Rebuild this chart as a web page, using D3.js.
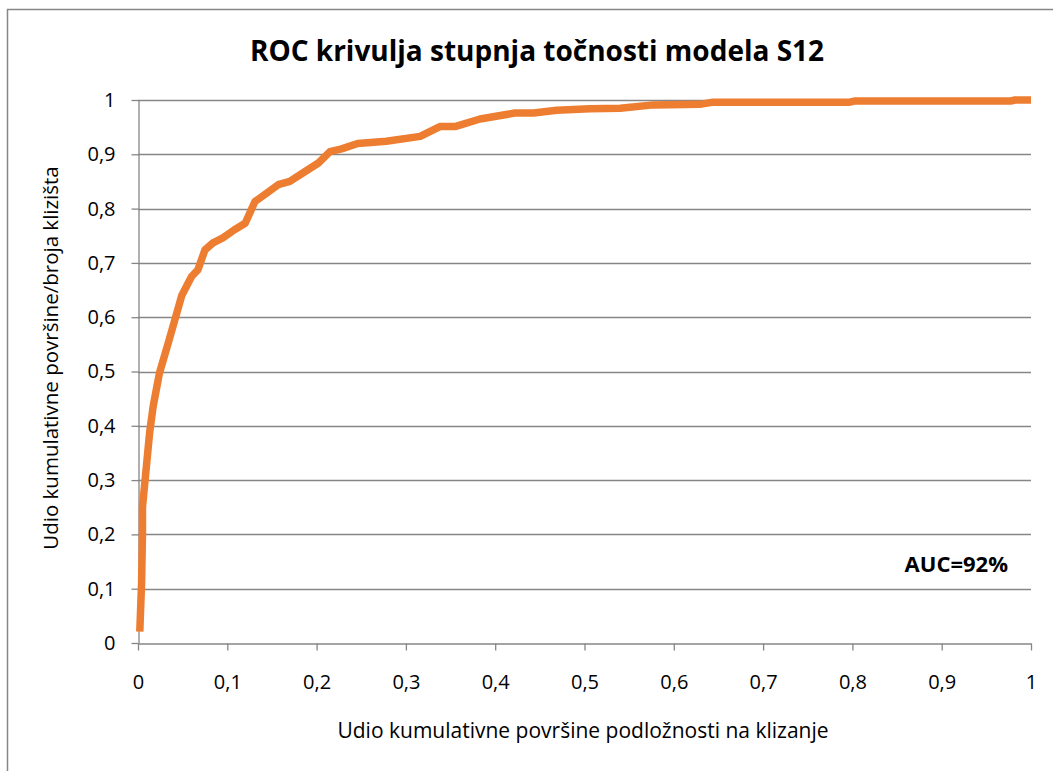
<!DOCTYPE html>
<html lang="hr">
<head>
<meta charset="utf-8">
<style>
  body { margin: 0; background: #fff; }
  text { font-family: "Open Sans", sans-serif; fill: #000; }
  .axis path, .axis line { stroke: #868686; }
  .axis text { font-size: 20px; }
</style>
</head>
<body>
<script src="https://cdn.jsdelivr.net/npm/d3@7"></script>
<script>

// ROC krivulja (procjena iz slike)
var fpr = [0.002, 0.004, 0.005, 0.005, 0.013, 0.017, 0.024, 0.035, 0.049, 0.060, 0.067, 0.075,
  0.084, 0.095, 0.108, 0.120, 0.131, 0.142, 0.157, 0.170, 0.185, 0.202, 0.215, 0.228, 0.246,
  0.278, 0.316, 0.338, 0.355, 0.383, 0.422, 0.443, 0.469, 0.506, 0.540, 0.577, 0.629, 0.644,
  0.797, 0.802, 0.977, 0.982, 1.0];
var tpr = [0.021, 0.11, 0.2, 0.25, 0.387, 0.436, 0.497, 0.559, 0.640, 0.675, 0.687, 0.724,
  0.737, 0.746, 0.761, 0.773, 0.813, 0.826, 0.844, 0.850, 0.866, 0.884, 0.905, 0.910, 0.920,
  0.924, 0.933, 0.951, 0.951, 0.965, 0.976, 0.976, 0.981, 0.984, 0.985, 0.991, 0.992, 0.996,
  0.996, 0.998, 0.998, 1.0, 1.0];

var xTicks = d3.range(0, 11).map(function(i) { return i / 10; });
var yTicks = d3.range(0, 11).map(function(i) { return i / 10; });

var chartTitle = "ROC krivulja stupnja točnosti modela S12";
var xTitle = "Udio kumulativne površine podložnosti na klizanje";
var yTitle = "Udio kumulativne površine/broja klizišta";
var aucLabel = "AUC=92%";

var W = 1053, H = 771;
var plot = {left: 138, right: 1031, top: 100, bottom: 643};

var fmt = function(d) { return String(d).replace(".", ","); };

var svg = d3.select("body").append("svg")
  .attr("width", W)
  .attr("height", H);

// okvir grafikona
svg.append("rect")
  .attr("x", 7.5).attr("y", 9.5)
  .attr("width", W + 20).attr("height", H + 20)
  .attr("fill", "none")
  .attr("stroke", "#868686")
  .attr("stroke-width", 1.5);

var scaleX = d3.scaleLinear().domain([0, 1]).range([plot.left, plot.right]);
var scaleY = d3.scaleLinear().domain([0, 1]).range([plot.bottom, plot.top]);

// mreza
svg.append("g")
  .selectAll("line")
  .data(yTicks.slice(1))
  .enter().append("line")
  .attr("x1", plot.left).attr("x2", plot.right)
  .attr("y1", function(d) { return Math.round(scaleY(d)) + 0.5; })
  .attr("y2", function(d) { return Math.round(scaleY(d)) + 0.5; })
  .attr("stroke", "#868686")
  .attr("stroke-width", 1.3);

var xAxis = d3.axisBottom(scaleX).tickValues(xTicks).tickFormat(fmt).tickSize(7).tickSizeOuter(0).tickPadding(24);
var yAxis = d3.axisLeft(scaleY).tickValues(yTicks).tickFormat(fmt).tickSize(7).tickSizeOuter(0).tickPadding(16);

svg.append("g")
  .attr("class", "x axis")
  .attr("transform", "translate(0," + (plot.bottom + 0.5) + ")")
  .call(xAxis);

svg.append("g")
  .attr("class", "y axis")
  .attr("transform", "translate(" + (plot.left + 0.5) + ",0)")
  .call(yAxis);

svg.selectAll(".axis path, .axis line").attr("stroke-width", 1.3);

var line = d3.line()
  .x(function(d, i) { return scaleX(fpr[i]); })
  .y(function(d, i) { return scaleY(tpr[i]); });

svg.append("path")
  .datum(fpr)
  .attr("d", line)
  .attr("fill", "none")
  .attr("stroke", "#ed7d31")
  .attr("stroke-width", 7.5)
  .attr("stroke-linejoin", "round");

svg.append("text")
  .attr("x", 537).attr("y", 61)
  .attr("text-anchor", "middle")
  .style("font-size", "28px")
  .style("font-weight", "bold")
  .text(chartTitle);

svg.append("text")
  .attr("x", 583).attr("y", 738)
  .attr("text-anchor", "middle")
  .style("font-size", "21px")
  .text(xTitle);

svg.append("text")
  .attr("transform", "translate(58,358) rotate(-90)")
  .attr("text-anchor", "middle")
  .style("font-size", "20.5px")
  .text(yTitle);

svg.append("text")
  .attr("x", 1008).attr("y", 572)
  .attr("text-anchor", "end")
  .style("font-size", "22px")
  .style("font-weight", "bold")
  .text(aucLabel);

</script>
</body>
</html>
